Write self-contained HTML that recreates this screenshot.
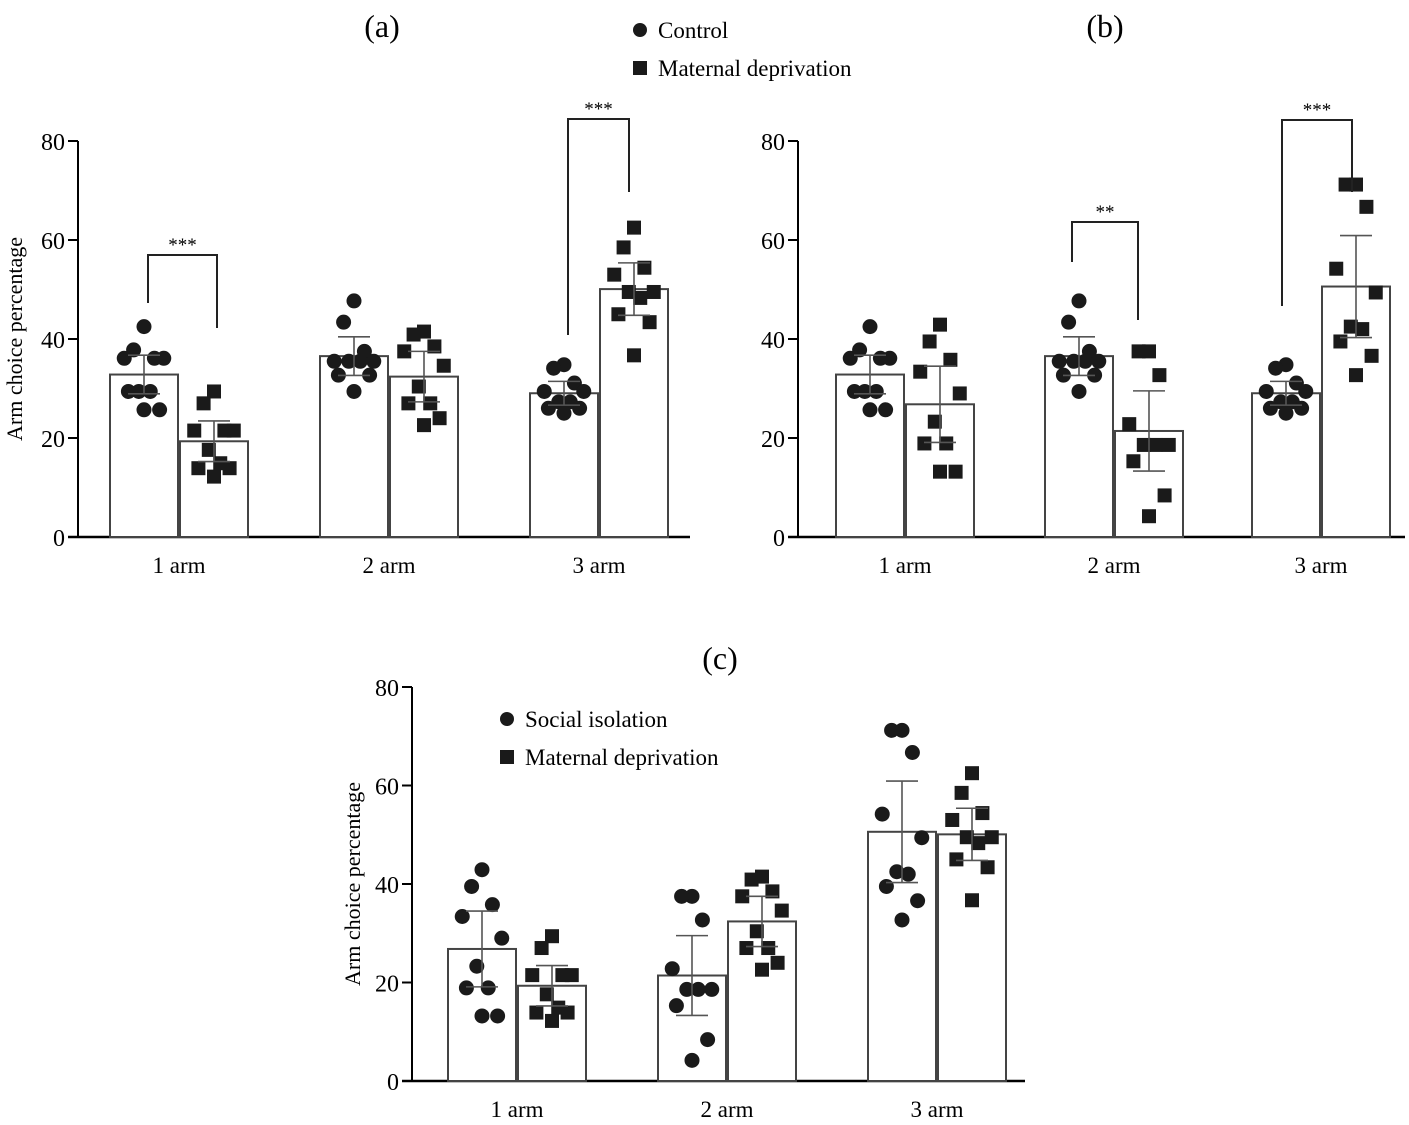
<!DOCTYPE html>
<html><head><meta charset="utf-8"><style>
html,body{margin:0;padding:0;background:#fff;}
svg{display:block;font-family:"Liberation Serif",serif;}
</style></head><body>
<svg id="fig" width="1409" height="1125" viewBox="0 0 1409 1125"></svg>
<script>
const categories = ["1 arm","2 arm","3 arm"];
const yTicks = [0,20,40,60,80];
// data
const control = [
 [42.5,37.8,36.1,36.1,36.1,29.4,29.4,29.4,25.7,25.7],
 [47.7,43.4,37.5,35.5,35.5,35.5,35.5,32.7,32.7,29.4],
 [34.8,34.1,31.1,29.4,29.4,27.3,27.3,26,26,25]];
const maternal = [
 [29.4,27,21.5,21.5,21.5,17.6,14.9,13.9,13.9,12.2],
 [41.5,40.9,38.5,37.5,34.6,30.4,27,27,24,22.6],
 [62.5,58.5,54.4,53,49.5,49.5,48.3,45,43.4,36.7]];
const social = [
 [42.9,39.5,35.8,33.4,29,23.3,18.9,18.9,13.2,13.2],
 [37.5,37.5,32.7,22.8,18.6,18.6,18.6,15.3,8.4,4.2],
 [71.2,71.2,66.7,54.2,49.4,42.5,42,39.5,36.6,32.7]];
const controlErr = [3.9,3.9,2.4];
const maternalErr = [4.1,5.1,5.3];
const socialErr = [7.7,8.1,10.3];

const NS="http://www.w3.org/2000/svg";
const svg=document.getElementById('fig');
function mk(tag,attrs,parent){const e=document.createElementNS(NS,tag);for(const k in attrs)e.setAttribute(k,attrs[k]);(parent||svg).appendChild(e);return e;}
function mean(a){return a.reduce((s,v)=>s+v,0)/a.length;}
const jit=[0.5,0.3,0.7,0.12,0.88,0.4,0.62,0.2,0.8,0.5];

function panel(cfg){
  const g=mk('g',{});
  
  
  const y=v=>cfg.y0-(v/80)*(cfg.y0-cfg.y80);
  const ax=mk('line',{x1:cfg.ax,y1:cfg.y80,x2:cfg.ax,y2:cfg.y0,stroke:'#000','stroke-width':2},g);
  
  const xa=mk('line',{x1:cfg.ax-10,y1:cfg.y0,x2:cfg.axEnd,y2:cfg.y0,stroke:'#000','stroke-width':2.5},g);
  
  yTicks.forEach(t=>{
    mk('line',{x1:cfg.ax-10,y1:y(t),x2:cfg.ax,y2:y(t),stroke:'#000','stroke-width':2},g);
    const tl=mk('text',{x:cfg.ax-13,y:y(t)+9,'text-anchor':'end','font-size':24},g);
    tl.textContent=t;
    
  });
  if(cfg.ytitle){
    const yt=mk('text',{x:0,y:0,transform:`translate(${cfg.ytx},${(cfg.y0+cfg.y80)/2}) rotate(-90)`,'text-anchor':'middle','font-size':22},g);
    yt.textContent='Arm choice percentage';
    
  }
  const bw=68;
  categories.forEach((c,i)=>{
    const left=cfg.groups[i];
    [[cfg.s1,cfg.e1,'circle'],[cfg.s2,cfg.e2,'square']].forEach((s,j)=>{
      const vals=s[0][i],m=mean(vals),bx=left+j*(bw+2);
      const r=mk('rect',{x:bx,y:y(m),width:bw,height:cfg.y0-y(m),fill:'#fff',stroke:'#444','stroke-width':2},g);
      
      
      vals.forEach((v,k)=>{
        const px=bx+8+jit[k]*(bw-16);
        let p;
        if(s[2]==='circle') p=mk('circle',{cx:px,cy:y(v),r:7.5,fill:'#1a1a1a'},g);
        else p=mk('rect',{x:px-7,y:y(v)-7,width:14,height:14,fill:'#1a1a1a'},g);
        
        
      });
      const e=s[1][i],cx=bx+bw/2;
      const eb=mk('path',{d:`M${cx},${y(m+e)}V${y(m-e)}M${cx-16},${y(m+e)}h32M${cx-16},${y(m-e)}h32`,stroke:'#555','stroke-width':1.6,fill:'none'},g);
      
    });
    const xl=mk('text',{x:left+bw+1,y:cfg.y0+36,'text-anchor':'middle','font-size':23},g);
    xl.textContent=c;
    
  });
  (cfg.brackets||[]).forEach(b=>{
    const p=mk('path',{d:`M${b.x1},${b.l}V${b.t}H${b.x2}V${b.r}`,stroke:'#222','stroke-width':2,fill:'none'},g);
    
    const t=mk('text',{x:(b.x1+b.x2)/2,y:b.t-4,'text-anchor':'middle','font-size':19},g);
    t.textContent=b.s;
    
  });
}
panel({name:'panel-a',ax:78,axEnd:690,y0:537,y80:141,groups:[110,320,530],s1:control,e1:controlErr,s2:maternal,e2:maternalErr,ytitle:true,ytx:22,
 brackets:[{x1:148,x2:217,t:255,l:303,r:328,s:'***'},{x1:568,x2:629,t:119,l:335,r:192,s:'***'}]});
panel({name:'panel-b',ax:798,axEnd:1405,y0:537,y80:141,groups:[836,1045,1252],s1:control,e1:controlErr,s2:social,e2:socialErr,ytitle:false,
 brackets:[{x1:1072,x2:1138,t:222,l:262,r:320,s:'**'},{x1:1282,x2:1352,t:120,l:306,r:192,s:'***'}]});
panel({name:'panel-c',ax:412,axEnd:1025,y0:1081,y80:687,groups:[448,658,868],s1:social,e1:socialErr,s2:maternal,e2:maternalErr,ytitle:true,ytx:360});

function txt(x,y,s,size,name,anchor){const t=mk('text',{x:x,y:y,'font-size':size,'text-anchor':anchor||'start'});t.textContent=s;return t;}
txt(382,37,'(a)',32,'panel-a-label','middle');
txt(1105,37,'(b)',32,'panel-b-label','middle');
txt(720,669,'(c)',32,'panel-c-label','middle');
function legend(x,y,label,shape,name){
  const g=mk('g',{});
  if(shape==='circle') mk('circle',{cx:x,cy:y,r:7,fill:'#1a1a1a'},g);
  else mk('rect',{x:x-7,y:y-7,width:14,height:14,fill:'#1a1a1a'},g);
  const t=mk('text',{x:x+18,y:y+8,'font-size':23},g);t.textContent=label;
}
legend(640,30,'Control','circle','legend-entry-control');
legend(640,68,'Maternal deprivation','square','legend-entry-maternal-deprivation');
legend(507,719,'Social isolation','circle','legend-entry-social-isolation');
legend(507,757,'Maternal deprivation','square','legend-entry-maternal-deprivation-c');
</script>
</body></html>
